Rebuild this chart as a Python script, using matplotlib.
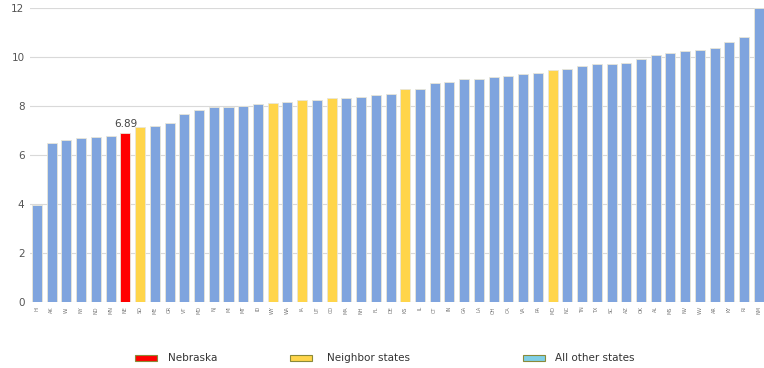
import matplotlib
matplotlib.use("Agg")
import matplotlib.pyplot as plt
from matplotlib.patches import Rectangle

states = ["HI","AK","WI","NY","ND","MN","NE","SD","ME","OR","VT","MD","NJ","MI","MT","ID",
          "WY","WA","IA","UT","CO","MA","NH","FL","DE","KS","IL","CT","IN","GA","LA","OH",
          "CA","VA","PA","MO","NC","TN","TX","SC","AZ","OK","AL","MS","NV","WV","AR","KY","RI","NM"]
values = [3.96,6.5,6.6,6.68,6.72,6.78,6.89,7.15,7.18,7.3,7.67,7.84,7.96,7.97,8.0,8.08,
          8.12,8.16,8.24,8.25,8.33,8.33,8.37,8.45,8.49,8.69,8.7,8.95,8.98,9.1,9.12,9.2,
          9.24,9.31,9.36,9.48,9.49,9.65,9.7,9.72,9.74,9.9,10.1,10.17,10.25,10.3,10.38,10.6,10.8,12.0]
nebraska = "NE"
neighbors = ["SD","WY","IA","CO","KS","MO"]
legend_labels = ["Nebraska", "Neighbor states", "All other states"]
yticks = [0, 2, 4, 6, 8, 10, 12]

C_NE = "#FF0000"
C_NB = "#FFD54A"
C_OT = "#7FA4DE"

colors = [C_NE if s == nebraska else (C_NB if s in neighbors else C_OT) for s in states]

fig = plt.figure(figsize=(7.64, 3.68), dpi=100)
ax = fig.add_axes([30/764, 1-302/368, 1-30/764, (302-8)/368])
x = list(range(len(states)))
ax.bar(x, values, width=0.68, color=colors, edgecolor="#E9E6D8", linewidth=0.6, zorder=3)
ax.set_xlim(-0.475, 49.35)
ax.set_ylim(0, 12)
ax.set_yticks(yticks)
ax.set_yticklabels([str(t) for t in yticks], fontsize=7.5, color="#555555")
ax.set_xticks(x)
ax.set_xticklabels(states, rotation=90, fontsize=3.5, color="#777777")
ax.tick_params(axis="both", length=0, pad=4)
ax.tick_params(axis="x", pad=3)
ax.grid(axis="y", color="#D9D9D9", linewidth=0.8, zorder=0)
for sp in ax.spines.values():
    sp.set_visible(False)

i_ne = states.index(nebraska)
ax.text(i_ne, values[i_ne] + 0.18, f"{values[i_ne]:.2f}", ha="center", va="bottom",
        fontsize=7.5, color="#444444")

# legend
leg_items = [(135, C_NE), (290, C_NB), (523, "#7FCFE6")]
text_x = [168, 327, 555]
for (px, c), tx, lab in zip(leg_items, text_x, legend_labels):
    fig.patches.append(Rectangle((px/764, 1-361/368), 22/764, 6/368, transform=fig.transFigure,
                                 facecolor=c, edgecolor="#8A8A3A", linewidth=0.8))
    fig.text(tx/764, 1-358/368, lab, fontsize=7.5, color="#333333", va="center", ha="left")

fig.savefig("out.png", dpi=100)
